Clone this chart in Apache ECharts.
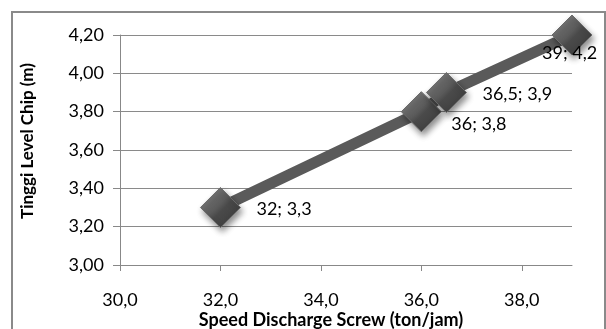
<!DOCTYPE html>
<html>
<head>
<meta charset="utf-8">
<script src="https://cdn.jsdelivr.net/npm/echarts@6/dist/echarts.min.js"></script>
<style>
html,body{margin:0;padding:0;background:#fff;}
#c{width:606px;height:329px;}
</style>
</head>
<body>
<div id="c"></div>
<script>
// ---- data ----
const speed = [32, 36, 36.5, 39];
const level = [3.3, 3.8, 3.9, 4.2];
const pointLabels = ['32; 3,3', '36; 3,8', '36,5; 3,9', '39; 4,2'];
const xTicks = [30, 32, 34, 36, 38];
const yTicks = [3.0, 3.2, 3.4, 3.6, 3.8, 4.0, 4.2];
const xTitle = 'Speed Discharge Screw (ton/jam)';
const yTitle = 'Tinggi Level Chip (m)';

// label offsets (style only)
const labelOffsets = [[36, 2], [30, 13], [36, 2], [-30, 18]];

const fmt = (v, d) => v.toFixed(d).replace('.', ',');
const FONT = 'Lato, "Open Sans", sans-serif';

const chart = echarts.init(document.getElementById('c'), null, {renderer: 'canvas'});

const markerColor = new echarts.graphic.LinearGradient(0, 0, 1, 1, [
  {offset: 0, color: '#8c8c8c'},
  {offset: 0.45, color: '#5c5c5c'},
  {offset: 0.55, color: '#4a4a4a'},
  {offset: 1, color: '#383838'}
]);

const seriesData = speed.map((x, i) => ({
  value: [x, level[i]],
  label: {
    show: true,
    formatter: pointLabels[i],
    position: 'inside',
    align: 'left',
    verticalAlign: 'middle',
    offset: labelOffsets[i],
    color: '#000',
    fontFamily: FONT,
    fontSize: 18
  }
}));

chart.setOption({
  animation: false,
  backgroundColor: '#fff',
  grid: {left: 120, right: 34, top: 35, bottom: 64, containLabel: false},
  xAxis: {
    type: 'value',
    min: 30, max: 39, interval: 2,
    axisLine: {show: true, lineStyle: {color: '#888', width: 1}},
    axisTick: {show: true, length: 6, lineStyle: {color: '#888'}, customValues: xTicks},
    axisLabel: {
      color: '#000', fontFamily: FONT, fontSize: 18, margin: 26,
      customValues: xTicks,
      formatter: v => fmt(v, 1)
    },
    splitLine: {show: false}
  },
  yAxis: {
    type: 'value',
    min: 3, max: 4.2, interval: 0.2,
    axisLine: {show: true, lineStyle: {color: '#888', width: 1}},
    axisTick: {show: true, length: 7, lineStyle: {color: '#888'}},
    axisLabel: {
      color: '#000', fontFamily: FONT, fontSize: 18, margin: 16,
      formatter: v => fmt(v, 2)
    },
    splitLine: {show: true, lineStyle: {color: '#8a8a8a', width: 1}}
  },
  graphic: [
    {type: 'rect', shape: {x: 12, y: 12, width: 593, height: 330},
     style: {fill: 'none', stroke: '#8a8a8a', lineWidth: 2}, z: 0, silent: true},
    {type: 'text', x: 331, y: 320,
     style: {text: xTitle, font: 'bold 18px ' + FONT, fill: '#000', textAlign: 'center', textVerticalAlign: 'middle'}},
    {type: 'text', rotation: Math.PI / 2, x: 28, y: 141,
     style: {text: yTitle, font: 'bold 17px ' + FONT, fill: '#000', textAlign: 'center', textVerticalAlign: 'middle'}}
  ],
  series: [{
    type: 'line',
    data: seriesData,
    lineStyle: {color: '#5a5a5a', width: 11},
    symbol: 'diamond',
    symbolSize: 40,
    itemStyle: {
      color: markerColor,
      borderColor: '#6a6a6a',
      borderWidth: 1,
      shadowBlur: 6,
      shadowColor: 'rgba(0,0,0,0.45)',
      shadowOffsetX: 2,
      shadowOffsetY: 4
    },
    z: 3
  }]
});
</script>
</body>
</html>
